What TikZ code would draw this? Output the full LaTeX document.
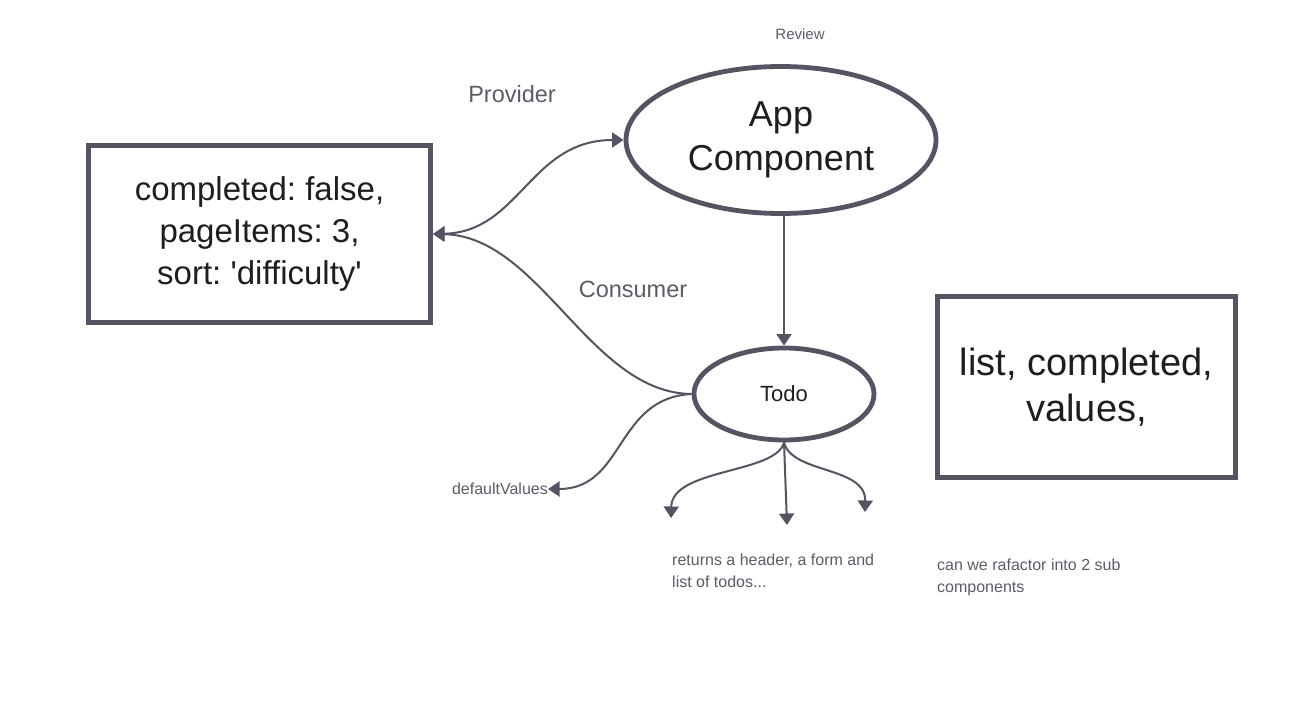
\documentclass[tikz,border=0pt]{standalone}
\usepackage{fontspec}
\setmainfont{Liberation Sans}
\usetikzlibrary{arrows.meta,shapes.geometric}
\definecolor{linec}{RGB}{84,84,98}
\definecolor{txtc}{RGB}{30,30,32}
\definecolor{lblc}{RGB}{92,92,104}
\tikzset{
  tip/.tip={Triangle[length=11.5pt,width=15pt]},
  box/.style={draw=linec, line width=5pt, rectangle, inner sep=0pt, text=txtc, align=center},
  oval/.style={draw=linec, line width=4.8pt, ellipse, inner sep=0pt, text=txtc, align=center},
  conn/.style={draw=linec, line width=2pt, -tip},
  both/.style={draw=linec, line width=2pt, tip-tip},
  lbl/.style={text=lblc, inner sep=0pt},
  note/.style={text=lblc, inner sep=0pt, align=left, font=\fontsize{16}{22}\selectfont}
}
\frenchspacing
\begin{document}
\begin{tikzpicture}[x=1pt,y=-1pt]
\useasboundingbox[fill=white] (0,0) rectangle (1313,709);

% nodes
\node[box, minimum width=342pt, minimum height=177pt, font=\fontsize{33}{42}\selectfont] (cfg) at (259.5,234)
  {completed: false,\\pageItems: 3,\\sort: \textquotesingle difficulty\textquotesingle};
\node[oval, minimum width=310pt, minimum height=147pt, font=\fontsize{36}{44}\selectfont] (app) at (781,140)
  {App\\Component};
\node[oval, minimum width=180pt, minimum height=92pt, font=\fontsize{22}{26}\selectfont] (todo) at (784,394)
  {Todo};
\node[box, minimum width=298pt, minimum height=181pt, font=\fontsize{38}{46}\selectfont] (lst) at (1086.5,387)
  {list, completed,\\values,};

% labels
\node[lbl, font=\fontsize{15}{18}\selectfont] (review) at (800,34) {Review};
\node[lbl, font=\fontsize{23.5}{28}\selectfont] (prov) at (512,94) {Provider};
\node[lbl, font=\fontsize{23.5}{28}\selectfont] (cons) at (633,289) {Consumer};
\node[lbl, font=\fontsize{16}{19}\selectfont, anchor=east] (dv) at (548,489) {defaultValues};
\node[note, anchor=west] (ret) at (672,571) {returns a header, a form and\\list of todos...};
\node[note, anchor=west] (ref) at (937,577) {can we rafactor into 2 sub\\components};

% free ends of the three branches
\coordinate (b1) at (671,518);
\coordinate (b2) at (787,525);
\coordinate (b3) at (865,512);

% connectors
\draw[both] (cfg.east) .. controls (520,232) and (530,140) .. (app.west);
\draw[conn] (todo.west) .. controls (590,393) and (540,236) .. (cfg.east);
\draw[conn] (app.south -| todo.north) -- (todo.north);
\draw[conn] (todo.west) .. controls (615,398) and (625,489) .. (dv.east);
\draw[conn] (todo.south) .. controls (776,474) and (672,468) .. (b1);
\draw[conn] (todo.south) -- (b2);
\draw[conn] (todo.south) .. controls (792,474) and (866,466) .. (b3);
\end{tikzpicture}
\end{document}
